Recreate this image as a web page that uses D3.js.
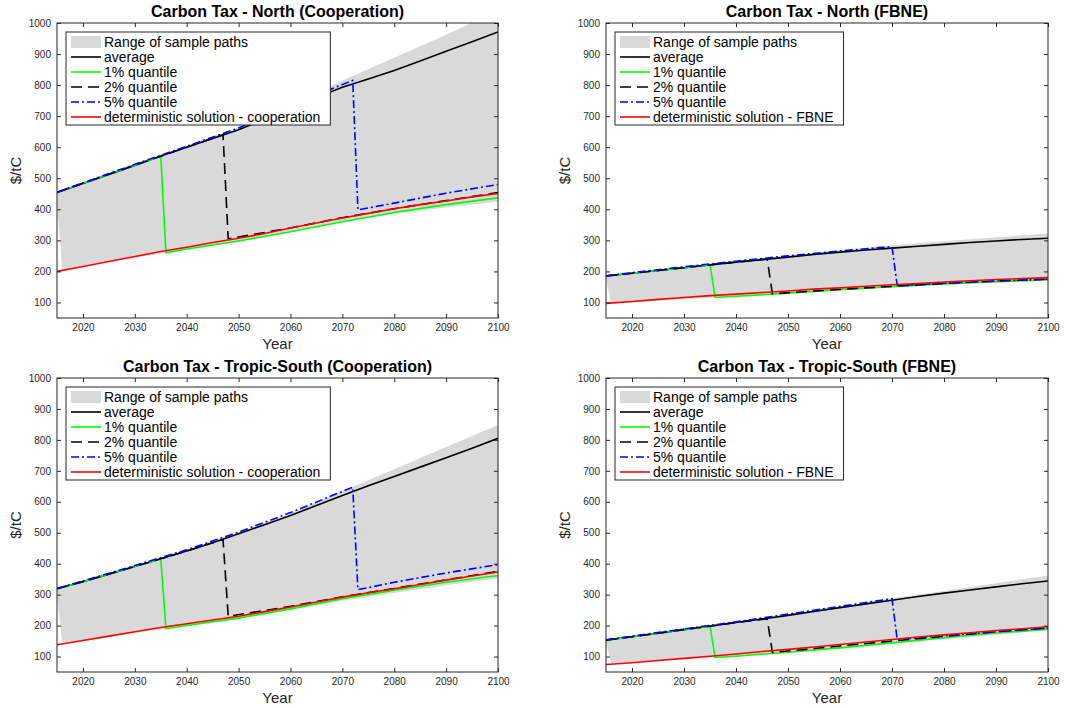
<!DOCTYPE html>
<html><head><meta charset="utf-8">
<script src="https://cdn.jsdelivr.net/npm/d3@7"></script>
<style>
body{margin:0;background:#fff;}
text{font-family:"Liberation Sans",Arial,Helvetica,sans-serif;}
</style>
</head><body>
<svg id="chart" width="1077" height="708"></svg>
<script>
// ---------- shared axes ----------
const xTicks = [2020, 2030, 2040, 2050, 2060, 2070, 2080, 2090, 2100];
const yTicks = [100, 200, 300, 400, 500, 600, 700, 800, 900, 1000];
const gridYears = [2015,2020,2025,2030,2035,2040,2045,2050,2055,2060,2065,2070,2075,2080,2085,2090,2095,2100];
const bandUpYears = [2015,2020,2030,2040,2050,2060,2070,2080,2090,2100];
const bandLoYears = [2015,2016,2020,2030,2040,2050,2060,2070,2080,2090,2100];
const legendLabels = ["Range of sample paths","average","1% quantile","2% quantile","5% quantile"];

// ---------- North (Cooperation) ----------
const ncAvg = [454,483,512,541,572,600,628,656,690,725,760,793,820,847,878,909,940,971];
const ncDet = [200,216,232,248,264,278,293,307,322,340,356,372,387,402,415,427,440,451];
const ncBandUp = [456,486,545,605,662,735,815,888,962,1040];
const ncBandLo = [430,205,218,244,270,297,328,358,386,406,425];
const ncQ1Years = [2015,2020,2025,2030,2035,2036,2040,2050,2060,2070,2080,2090,2100];
const ncQ1 = [455,484,513,542,571,260,272,298,328,360,390,415,437];
const ncQ2Years = [2015,2020,2030,2040,2047,2048,2060,2070,2080,2090,2100];
const ncQ2 = [455,484,542,600,640,305,340,373,402,428,454];
const ncQ5Years = [2015,2020,2030,2040,2050,2060,2072,2073,2080,2090,2100];
const ncQ5 = [455,485,545,603,662,735,815,398,420,452,480];

// ---------- North (FBNE) ----------
const nfAvg = [185,194,203,212,221,230,238,246,255,262,269,275,281,287,293,298,303,307];
const nfDet = [97,103,110,116,122,127,132,137,143,147,152,157,161,166,170,174,177,180];
const nfBandUp = [186,196,215,234,251,268,284,297,310,322];
const nfBandLo = [175,97,100,110,120,130,140,150,158,165,170];
const nfQ1Years = [2015,2020,2030,2035,2036,2040,2050,2060,2070,2080,2090,2100];
const nfQ1 = [185,194,212,221,116,120,130,141,151,160,167,173];
const nfQ2Years = [2015,2020,2030,2040,2046,2047,2060,2070,2080,2090,2100];
const nfQ2 = [185,194,212,230,240,128,142,152,161,169,175];
const nfQ5Years = [2015,2020,2030,2040,2050,2060,2070,2071,2080,2090,2100];
const nfQ5 = [186,196,215,233,250,266,280,155,162,169,175];

// ---------- Tropic-South (Cooperation) ----------
const tcAvg = [319,342,366,391,416,441,468,497,526,556,588,620,652,682,712,742,773,805];
const tcDet = [138,152,166,180,194,206,218,230,245,260,276,292,306,319,333,347,360,373];
const tcBandUp = [320,343,393,443,500,562,635,705,777,848];
const tcBandLo = [300,145,150,176,200,224,250,280,305,330,352];
const tcQ1Years = [2015,2020,2030,2035,2036,2040,2050,2060,2070,2080,2090,2100];
const tcQ1 = [319,342,391,415,190,200,224,254,287,314,340,362];
const tcQ2Years = [2015,2020,2030,2040,2047,2048,2060,2070,2080,2090,2100];
const tcQ2 = [319,342,391,441,478,230,262,293,320,348,375];
const tcQ5Years = [2015,2020,2030,2040,2050,2060,2072,2073,2080,2090,2100];
const tcQ5 = [320,344,394,445,502,565,647,316,340,370,397];

// ---------- Tropic-South (FBNE) ----------
const tfAvg = [153,164,175,187,198,210,221,233,246,258,270,282,294,305,315,325,335,344];
const tfDet = [74,80,87,94,101,108,116,123,131,139,147,155,163,170,177,184,190,196];
const tfBandUp = [154,165,189,212,236,262,288,312,337,362];
const tfBandLo = [145,78,82,92,102,114,127,142,156,170,185];
const tfQ1Years = [2015,2020,2030,2035,2036,2040,2050,2060,2070,2080,2090,2100];
const tfQ1 = [153,164,187,198,97,101,114,128,144,161,176,188];
const tfQ2Years = [2015,2020,2030,2040,2046,2047,2060,2070,2080,2090,2100];
const tfQ2 = [153,164,187,210,222,113,134,150,165,180,192];
const tfQ5Years = [2015,2020,2030,2040,2050,2060,2070,2071,2080,2090,2100];
const tfQ5 = [154,166,189,212,237,262,287,155,167,180,192];

const panels = [
  {title:"Carbon Tax - North (Cooperation)", det:"deterministic solution - cooperation",
   x0:57, x1:498, y0:23, y1:318, avg:ncAvg, detV:ncDet, up:ncBandUp, lo:ncBandLo,
   q1:[ncQ1Years,ncQ1], q2:[ncQ2Years,ncQ2], q5:[ncQ5Years,ncQ5]},
  {title:"Carbon Tax - North (FBNE)", det:"deterministic solution - FBNE",
   x0:606, x1:1048, y0:23, y1:318, avg:nfAvg, detV:nfDet, up:nfBandUp, lo:nfBandLo,
   q1:[nfQ1Years,nfQ1], q2:[nfQ2Years,nfQ2], q5:[nfQ5Years,nfQ5]},
  {title:"Carbon Tax - Tropic-South (Cooperation)", det:"deterministic solution - cooperation",
   x0:57, x1:498, y0:378, y1:672, avg:tcAvg, detV:tcDet, up:tcBandUp, lo:tcBandLo,
   q1:[tcQ1Years,tcQ1], q2:[tcQ2Years,tcQ2], q5:[tcQ5Years,tcQ5]},
  {title:"Carbon Tax - Tropic-South (FBNE)", det:"deterministic solution - FBNE",
   x0:606, x1:1048, y0:378, y1:672, avg:tfAvg, detV:tfDet, up:tfBandUp, lo:tfBandLo,
   q1:[tfQ1Years,tfQ1], q2:[tfQ2Years,tfQ2], q5:[tfQ5Years,tfQ5]}
];

const svg = d3.select("#chart");
const AX = "#262626";
const BAND = "#d9d9d9";
const styles = {
  avg:{stroke:"#000000", dash:null},
  q1:{stroke:"#00ff00", dash:null},
  q2:{stroke:"#000000", dash:"11,6"},
  q5:{stroke:"#0000ff", dash:"8,3,2,3"},
  det:{stroke:"#ff0000", dash:null}
};

panels.forEach((p, pi) => {
  const x = d3.scaleLinear().domain([2015, 2100]).range([p.x0, p.x1]);
  const y = d3.scaleLinear().domain([50, 1000]).range([p.y1, p.y0]);
  const g = svg.append("g");
  const clipId = "clip" + pi;
  svg.append("clipPath").attr("id", clipId).append("rect")
    .attr("x", p.x0).attr("y", p.y0).attr("width", p.x1 - p.x0).attr("height", p.y1 - p.y0);
  const plot = g.append("g").attr("clip-path", `url(#${clipId})`);
  const line = d3.line().x(d => x(d[0])).y(d => y(d[1]));

  // band
  const upPts = bandUpYears.map((yr, i) => [yr, p.up[i]]);
  const loPts = bandLoYears.map((yr, i) => [yr, p.lo[i]]).reverse();
  plot.append("path").attr("d", line(upPts.concat(loPts)) + "Z")
    .attr("fill", BAND).attr("stroke", "none");

  const drawLine = (pts, st) => {
    plot.append("path").attr("d", line(pts)).attr("fill", "none")
      .attr("stroke", st.stroke).attr("stroke-width", 1.6)
      .attr("stroke-dasharray", st.dash);
  };
  drawLine(gridYears.map((yr, i) => [yr, p.avg[i]]), styles.avg);
  drawLine(p.q1[0].map((yr, i) => [yr, p.q1[1][i]]), styles.q1);
  drawLine(p.q2[0].map((yr, i) => [yr, p.q2[1][i]]), styles.q2);
  drawLine(p.q5[0].map((yr, i) => [yr, p.q5[1][i]]), styles.q5);
  drawLine(gridYears.map((yr, i) => [yr, p.detV[i]]), styles.det);

  // axes
  const styleAxis = sel => {
    sel.select(".domain").remove();
    sel.selectAll("line").attr("stroke", AX);
    sel.selectAll("text").attr("fill", AX).style("font-size", "10px")
      .style("font-family", '"Liberation Sans",Arial,sans-serif');
  };
  g.append("g").attr("transform", `translate(0,${p.y1})`)
    .call(d3.axisBottom(x).tickValues(xTicks).tickSize(-4).tickPadding(6).tickFormat(d3.format("d")))
    .call(styleAxis);
  g.append("g").attr("transform", `translate(0,${p.y0})`)
    .call(d3.axisTop(x).tickValues(xTicks).tickSize(-4).tickFormat(""))
    .call(styleAxis);
  g.append("g").attr("transform", `translate(${p.x0},0)`)
    .call(d3.axisLeft(y).tickValues(yTicks).tickSize(-4).tickPadding(6).tickFormat(d3.format("d")))
    .call(styleAxis);
  g.append("g").attr("transform", `translate(${p.x1},0)`)
    .call(d3.axisRight(y).tickValues(yTicks).tickSize(-4).tickFormat(""))
    .call(styleAxis);
  g.append("rect").attr("x", p.x0).attr("y", p.y0)
    .attr("width", p.x1 - p.x0).attr("height", p.y1 - p.y0)
    .attr("fill", "none").attr("stroke", AX).attr("stroke-width", 1);

  // labels
  g.append("text").attr("x", (p.x0 + p.x1) / 2).attr("y", p.y0 - 6)
    .attr("text-anchor", "middle").style("font-size", "16px").style("font-weight", "bold")
    .attr("fill", "#000").text(p.title);
  g.append("text").attr("x", (p.x0 + p.x1) / 2).attr("y", p.y1 + 30.5)
    .attr("text-anchor", "middle").style("font-size", "15px").attr("fill", AX).text("Year");
  g.append("text").attr("transform", `translate(${p.x0 - 41},${(p.y0 + p.y1) / 2}) rotate(-90)`)
    .attr("text-anchor", "middle").attr("dy", "0.35em").style("font-size", "15px")
    .attr("fill", AX).text("$/tC");

  // legend
  const lx = p.x0 + 9, ly = p.y0 + 9;
  const lg = g.append("g");
  const box = lg.append("rect").attr("x", lx).attr("y", ly).attr("height", 93)
    .attr("fill", "#fff").attr("stroke", AX).attr("stroke-width", 1);
  const labels = legendLabels.concat([p.det]);
  const keys = [null, "avg", "q1", "q2", "q5", "det"];
  let maxW = 0;
  labels.forEach((lab, i) => {
    const ry = ly + 10 + i * 15;
    if (i === 0) {
      lg.append("rect").attr("x", lx + 5).attr("y", ry - 6).attr("width", 30).attr("height", 12)
        .attr("fill", BAND);
    } else {
      const st = styles[keys[i]];
      lg.append("line").attr("x1", lx + 5).attr("x2", lx + 35).attr("y1", ry).attr("y2", ry)
        .attr("stroke", st.stroke).attr("stroke-width", 1.6).attr("stroke-dasharray", st.dash);
    }
    const t = lg.append("text").attr("x", lx + 38).attr("y", ry).attr("dy", "0.35em")
      .style("font-size", "14px").attr("fill", "#000").text(lab);
    maxW = Math.max(maxW, t.node().getComputedTextLength());
  });
  box.attr("width", 38 + maxW + 10);
});
</script>
</body></html>
